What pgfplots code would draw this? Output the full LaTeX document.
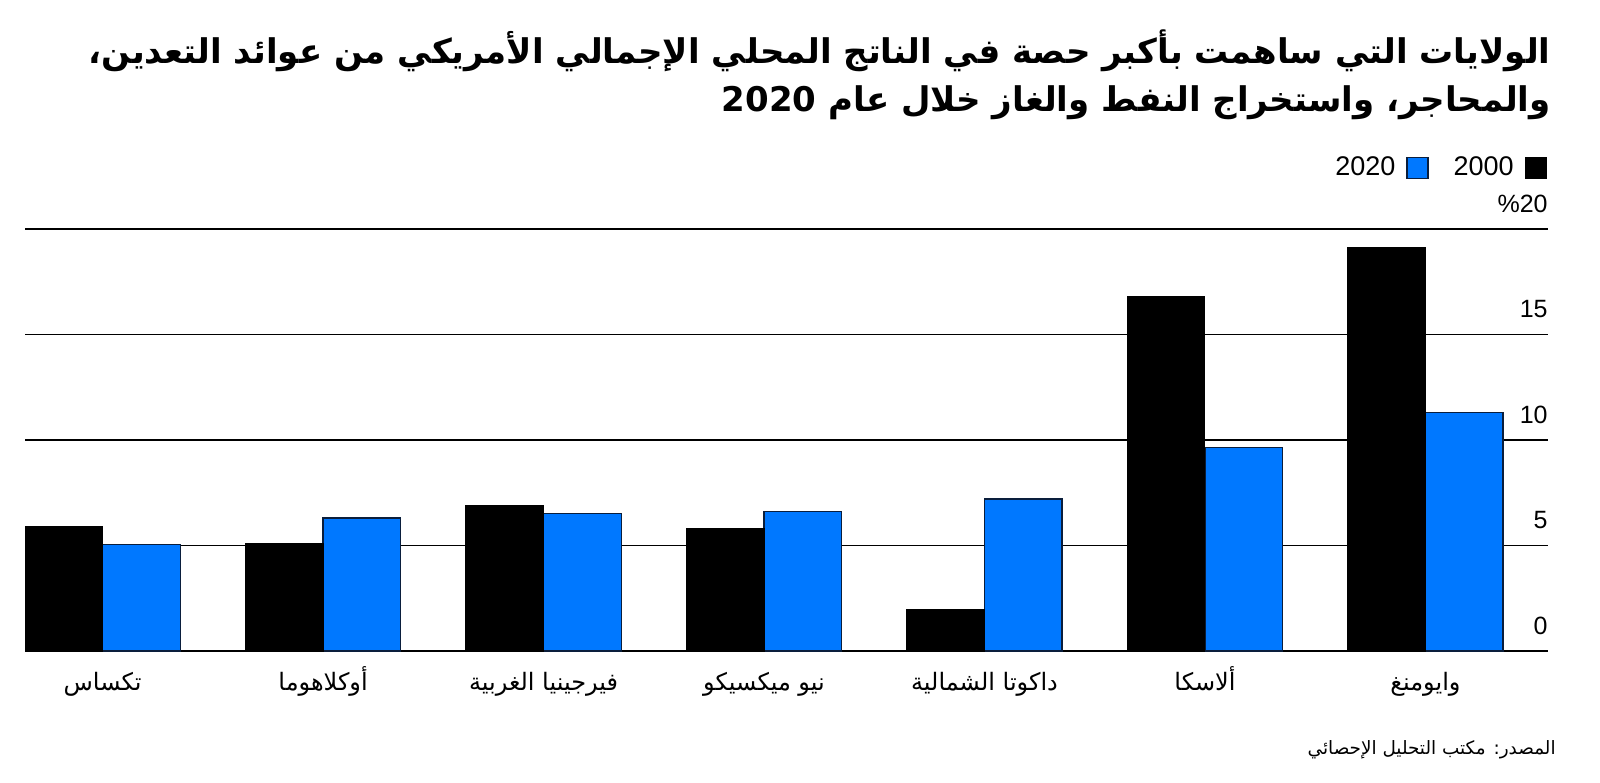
\documentclass[border=0pt]{standalone}
\usepackage{pgfplots}
\pgfplotsset{compat=1.18}
\usepackage{fontspec}
\setmainfont{Liberation Sans}
\newfontfamily\arabicfont[Script=Arabic]{DejaVu Sans}
\TeXXeTstate=1
\definecolor{barblue}{HTML}{0078FF}
\definecolor{navy}{HTML}{0A1E3C}
\begin{document}
\begin{tikzpicture}
\path[use as bounding box] (0,0) rectangle (800pt,391pt);
\begin{axis}[
  at={(12.5pt,65.5pt)}, anchor=south west,
  scale only axis, width=761.5pt, height=211pt,
  xmin=-0.352, xmax=6.556, ymin=0, ymax=20,
  enlargelimits=false,
  axis line style={draw=none},
  ytick={0,5,10,15,20},
  yticklabels={0,5,10,15,\%20},
  ymajorgrids, grid style={black, line width=0.75pt},
  major tick length=0pt,
  yticklabel pos=right,
  yticklabel style={anchor=south east, inner sep=0pt, yshift=8pt, font=\fontsize{12.5}{14}\selectfont},
  xtick={0,1,2,3,4,5,6},
  xticklabels={{\beginR تكساس\endR},{\beginR أوكلاهوما\endR},{\beginR فيرجينيا الغربية\endR},{\beginR نيو ميكسيكو\endR},{\beginR داكوتا الشمالية\endR},{\beginR ألاسكا\endR},{\beginR وايومنغ\endR}},
  xticklabel style={anchor=base, inner sep=0pt, yshift=-19.5pt, font=\arabicfont\fontsize{12}{14}\selectfont},
  ybar, bar width=0.352,
  clip=false,
  legend columns=2,
  legend plot pos=right,
  legend style={draw=none, fill=none, at={(1,1)}, anchor=east, yshift=30.5pt, xshift=-0.5pt,
    inner sep=0pt, font=\fontsize{13.5}{15}\selectfont,
    /tikz/column 1/.style={column sep=3.5pt},
    /tikz/column 2/.style={column sep=10.5pt},
    /tikz/column 3/.style={column sep=3.5pt}},
  legend image code/.code={\path[#1] (0pt,-5.2pt) rectangle (10.5pt,5.2pt);},
]
\addplot[fill=barblue, draw=navy, line width=0.6pt, bar shift=0.176] coordinates {
  (0,5.05) (1,6.3) (2,6.5) (3,6.6) (4,7.2) (5,9.65) (6,11.3)};
\addlegendentry{2020}
\addplot[fill=black, draw=black, line width=0.5pt, bar shift=-0.176] coordinates {
  (0,5.9) (1,5.1) (2,6.9) (3,5.8) (4,1.95) (5,16.8) (6,19.1)};
\addlegendentry{2000}
\end{axis}
\node[anchor=base east, inner sep=0pt, font=\arabicfont\bfseries\fontsize{17}{20}\selectfont] at (775.5pt,359pt)
  {\beginR الولايات التي ساهمت بأكبر حصة في الناتج المحلي الإجمالي الأمريكي من عوائد التعدين،\endR};
\node[anchor=base east, inner sep=0pt, font=\arabicfont\bfseries\fontsize{17}{20}\selectfont] at (775.5pt,335pt)
  {\beginR والمحاجر، واستخراج النفط والغاز خلال عام \beginL 2020\endL\endR};
\node[anchor=base east, inner sep=0pt, font=\arabicfont\fontsize{9.2}{11}\selectfont] at (778pt,14pt)
  {\beginR المصدر: مكتب التحليل الإحصائي\endR};
\end{tikzpicture}
\end{document}
